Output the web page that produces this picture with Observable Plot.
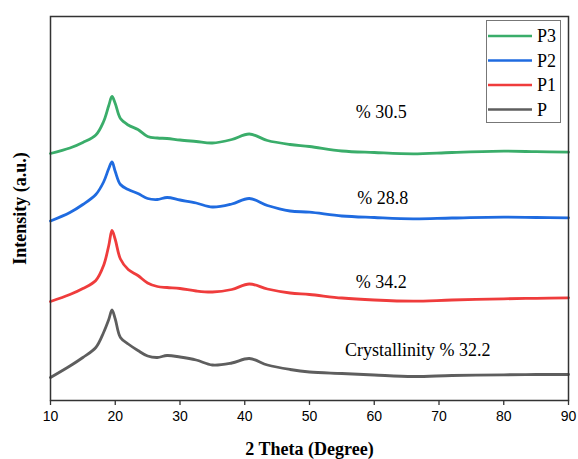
<!DOCTYPE html>
<html>
<head>
<meta charset="utf-8">
<script src="https://cdn.jsdelivr.net/npm/d3@7"></script>
<script src="https://cdn.jsdelivr.net/npm/@observablehq/plot@0.6"></script>
<style>
  html, body { margin: 0; padding: 0; background: #fff; }
  #wrap { position: relative; width: 578px; height: 459px; }
  #legend { position: absolute; left: 486px; top: 20px; }
</style>
</head>
<body>
<div id="wrap"></div>
<script>
// 2θ grid (degrees)
const theta = [10, 13, 15, 17, 18.2, 19, 19.5, 20, 20.8, 22, 23.5, 25, 26.5, 28, 30, 32.5, 35, 38, 40.7, 43.5, 47, 50, 55, 60, 66, 72, 80, 85, 90];
// Intensities (a.u., stacked offsets included)
const P3 = [247, 252.5, 258, 265.5, 279, 295, 304, 297, 282, 275.5, 271, 264, 262.5, 262, 260.5, 259, 257.5, 261, 266.5, 260, 256, 254, 249.5, 248, 246.7, 248, 249.3, 248.8, 248.3];
const P2 = [179.5, 188, 196, 206, 218.5, 232, 238.5, 229, 216, 211, 207, 202, 201, 203, 200.5, 197.5, 193.5, 196.5, 202, 195, 189.5, 188.3, 184.5, 183, 181.7, 182.5, 183.3, 183, 182.7];
const P1 = [99, 106, 112, 120, 135, 155, 170, 161, 141.5, 131, 125, 117.5, 114, 113, 112, 109.5, 108.5, 111, 116.5, 111.5, 107.5, 106, 102.5, 100.5, 99.3, 100.5, 101.7, 102.2, 102.7];
const P  = [23, 34.5, 43, 53, 68, 81, 90.5, 81.5, 63, 56.5, 50, 44.5, 43, 45, 43.5, 40.5, 35.5, 37.5, 42, 35.5, 31, 28.5, 27, 25.5, 24, 25, 25.7, 26, 26];

const seriesNames = ["P3", "P2", "P1", "P"];
const seriesValues = [P3, P2, P1, P];
const seriesColors = ["#3aad6a", "#1f6be0", "#ef3c3c", "#5e5e5e"];

// annotations
const annText = ["% 30.5", "% 28.8", "% 34.2", "Crystallinity % 32.2"];
const annX = [61.1, 61.3, 61.1, 66.7];
const annY = [288.5, 202, 118.5, 50.5];

const xTicks = [10, 20, 30, 40, 50, 60, 70, 80, 90];

const rows = [];
seriesNames.forEach((name, i) => {
  theta.forEach((t, j) => rows.push({series: name, theta: t, value: seriesValues[i][j]}));
});
const ann = annText.map((t, i) => ({text: t, x: annX[i], y: annY[i]}));

const serif = "'Liberation Serif', 'Times New Roman', serif";

const chart = Plot.plot({
  width: 578,
  height: 459,
  marginLeft: 50,
  marginRight: 10,
  marginTop: 16,
  marginBottom: 59,
  style: {fontFamily: "'Liberation Sans', Arial, sans-serif", fontSize: "14px", color: "#000", background: "#fff"},
  x: {domain: [10, 90], ticks: xTicks, label: null},
  y: {domain: [0, 384], axis: null},
  color: {domain: seriesNames, range: seriesColors},
  marks: [
    Plot.axisX({ticks: xTicks, tickSize: 5, tickPadding: 6, label: null, stroke: "#333", strokeWidth: 1.3, fill: "#000"}),
    Plot.line(rows, {x: "theta", y: "value", z: "series", stroke: "series", strokeWidth: 2.8, curve: "catmull-rom"}),
    Plot.text(ann, {x: "x", y: "y", text: "text", fontFamily: serif, fontSize: 18, fill: "#000", textAnchor: "middle"}),
    Plot.frame({stroke: "#333", strokeWidth: 1.5}),
    Plot.text(["2 Theta (Degree)"], {frameAnchor: "bottom", dy: 49, lineAnchor: "middle", textAnchor: "middle", fontFamily: serif, fontWeight: "bold", fontSize: 18, fill: "#000"}),
    Plot.text(["Intensity (a.u.)"], {frameAnchor: "left", dx: -30, rotate: -90, lineAnchor: "middle", textAnchor: "middle", fontFamily: serif, fontWeight: "bold", fontSize: 18, fill: "#000"})
  ]
});
document.getElementById("wrap").appendChild(chart);

// legend
const lg = d3.select("#wrap").append("svg")
  .attr("id", "legend").attr("width", 76).attr("height", 104);
lg.append("rect").attr("x", 0.5).attr("y", 0.5).attr("width", 74).attr("height", 102)
  .attr("fill", "#fff").attr("stroke", "#777").attr("stroke-width", 1);
seriesNames.forEach((name, i) => {
  const cy = 16 + i * 24.5;
  lg.append("line").attr("x1", 2).attr("x2", 46).attr("y1", cy).attr("y2", cy)
    .attr("stroke", seriesColors[i]).attr("stroke-width", 2.6);
  lg.append("text").attr("x", 51).attr("y", cy).attr("dy", "0.35em")
    .attr("font-family", serif).attr("font-size", 18).attr("fill", "#000").text(name);
});
</script>
</body>
</html>
